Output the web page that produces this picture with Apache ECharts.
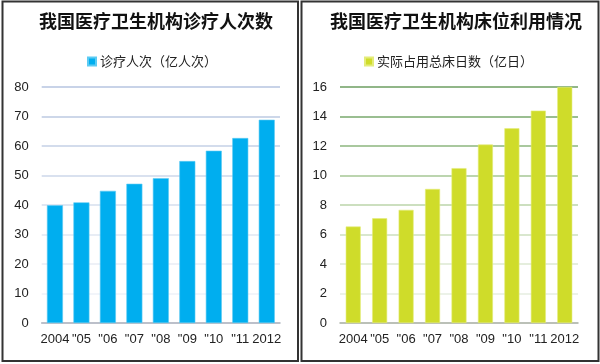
<!DOCTYPE html>
<html>
<head>
<meta charset="utf-8">
<script src="https://cdn.jsdelivr.net/npm/echarts@6/dist/echarts.min.js"></script>
<style>html,body{margin:0;padding:0;background:#fff}#c{width:600px;height:364px}</style>
</head>
<body>
<div id="c"></div>
<script>
var categories = ['2004', '"05', '"06', '"07', '"08', '"09', '"10', '"11', '2012'];
var visits = [39.9, 40.9, 44.8, 47.2, 49.1, 54.9, 58.4, 62.7, 68.9];
var bedDays = [6.54, 7.1, 7.67, 9.09, 10.5, 12.1, 13.2, 14.4, 16.0];
var leftTitle = '我国医疗卫生机构诊疗人次数';
var rightTitle = '我国医疗卫生机构床位利用情况';
var leftSeriesName = '诊疗人次（亿人次）';
var rightSeriesName = '实际占用总床日数（亿日）';

var font = '"Liberation Sans Narrow", "Arial Narrow", "Liberation Sans", Arial, sans-serif';
var cjk = '"Noto Sans CJK SC", sans-serif';
var chart = echarts.init(document.getElementById('c'), null, {renderer: 'canvas'});
var axisLabel = {color: '#222', fontSize: 13, fontFamily: font};
chart.setOption({
  animation: false,
  textStyle: {fontFamily: font},
  graphic: [
    {type: 'rect', shape: {x: 2.5, y: 1.5, width: 295.5, height: 359.5}, style: {fill: 'none', stroke: '#333', lineWidth: 2}},
    {type: 'rect', shape: {x: 301.5, y: 1.5, width: 297, height: 359.5}, style: {fill: 'none', stroke: '#333', lineWidth: 2}}
  ],
  title: [
    {text: leftTitle, left: 151, top: 7, textAlign: 'center', textStyle: {fontFamily: cjk, fontSize: 18, fontWeight: 'bold', color: '#111'}},
    {text: rightTitle, left: 451, top: 7, textAlign: 'center', textStyle: {fontFamily: cjk, fontSize: 18, fontWeight: 'bold', color: '#111'}}
  ],
  legend: [
    {data: [leftSeriesName], left: 82, top: 50, itemWidth: 8, itemHeight: 8, itemGap: 4, icon: 'rect',
     textStyle: {fontFamily: cjk, fontSize: 13, color: '#222', padding: [0, 0, 0, -1]}},
    {data: [rightSeriesName], left: 359, top: 50, itemWidth: 8, itemHeight: 8, icon: 'rect',
     textStyle: {fontFamily: cjk, fontSize: 13, color: '#222', padding: [0, 0, 0, -1]}}
  ],
  grid: [
    {left: 41.7, right: 320, top: 87, bottom: 41},
    {left: 340, right: 22, top: 87, bottom: 41}
  ],
  xAxis: [
    {type: 'category', gridIndex: 0, data: categories, axisTick: {show: false},
     axisLine: {lineStyle: {color: '#A9AFBA', width: 1.5}}, axisLabel: Object.assign({margin: 10, interval: 0}, axisLabel)},
    {type: 'category', gridIndex: 1, data: categories, axisTick: {show: false},
     axisLine: {lineStyle: {color: '#A9AFA5', width: 1.5}}, axisLabel: Object.assign({margin: 10, interval: 0}, axisLabel)}
  ],
  yAxis: [
    {type: 'value', gridIndex: 0, min: 0, max: 80, interval: 10, axisLine: {show: false}, axisTick: {show: false},
     axisLabel: Object.assign({margin: 13}, axisLabel),
     splitLine: {lineStyle: {width: 1.5, color: ['#F2F5FA', '#EEF2F8', '#E8EDF5', '#E0E7F2', '#D6DFEE', '#CCD7EA', '#C4D0E6', '#BCCAE2', '#B6C5E0']}}},
    {type: 'value', gridIndex: 1, min: 0, max: 16, interval: 2, axisLine: {show: false}, axisTick: {show: false},
     axisLabel: Object.assign({margin: 13}, axisLabel),
     splitLine: {lineStyle: {width: 1.5, color: ['#EEF3EA', '#E6EEE0', '#DCE8D2', '#CCDFBE', '#BBD4AA', '#A6C795', '#8CB67E', '#79A86C', '#6C9E60']}}}
  ],
  series: [
    {name: leftSeriesName, type: 'bar', xAxisIndex: 0, yAxisIndex: 0, data: visits, barWidth: 16,
     itemStyle: {color: '#00AEEF', borderColor: '#5CCBF3', borderWidth: 0.6}},
    {name: rightSeriesName, type: 'bar', xAxisIndex: 1, yAxisIndex: 1, data: bedDays, barWidth: 15,
     itemStyle: {color: '#CFDC2A', borderColor: '#E4EC7A', borderWidth: 0.6}}
  ]
});
</script>
</body>
</html>
